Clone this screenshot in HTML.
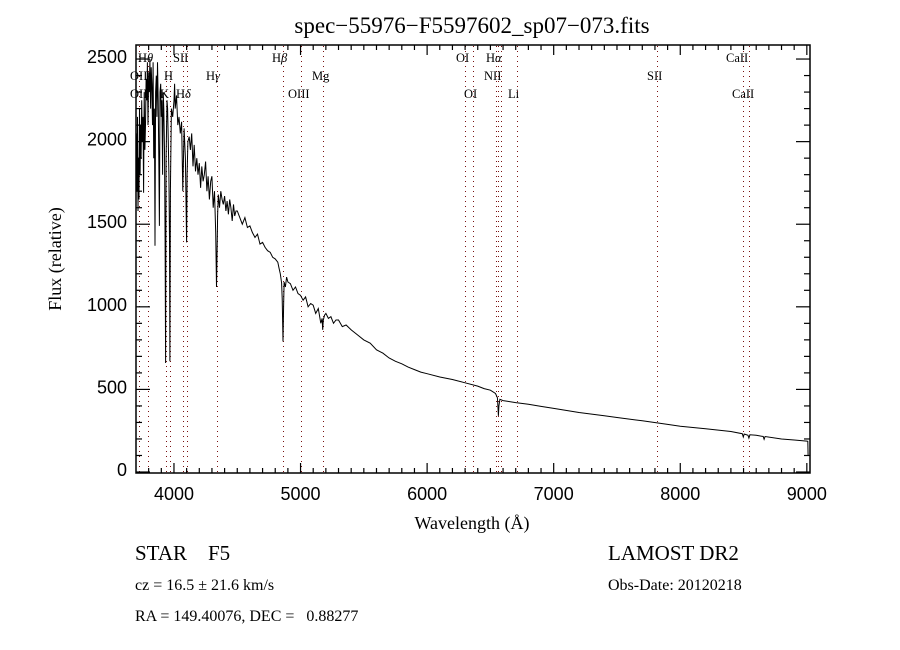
<!DOCTYPE html>
<html><head><meta charset="utf-8"><style>
body{margin:0;background:#fff;width:900px;height:650px;overflow:hidden}
svg{display:block}
.t{font-family:"Liberation Sans",sans-serif;font-size:18px;fill:#000}
.lb{font-family:"Liberation Serif",serif;font-size:12.5px;fill:#000}
.info{font-family:"Liberation Serif",serif;fill:#000}
</style></head><body>
<svg id="chart" width="900" height="650">
<text x="472" y="33" text-anchor="middle" class="info" style="font-size:23px">spec−55976−F5597602_sp07−073.fits</text>
<g id="lines"></g>
<polyline id="spec" fill="none" stroke="#000" stroke-width="1"/>
<rect x="136" y="45" width="674" height="428" fill="none" stroke="#000" stroke-width="1.5"/>
<g id="axes"></g>
<text x="0" y="0" transform="translate(61,259) rotate(-90)" text-anchor="middle" class="info" style="font-size:18px">Flux (relative)</text>
<text x="472" y="529" text-anchor="middle" class="info" style="font-size:18px">Wavelength (Å)</text>
<text x="135" y="560" class="info" style="font-size:21px" xml:space="preserve">STAR    F5</text>
<text x="608" y="560" class="info" style="font-size:21px">LAMOST DR2</text>
<text x="135" y="590" class="info" style="font-size:16px">cz = 16.5 ± 21.6 km/s</text>
<text x="608" y="590" class="info" style="font-size:16px">Obs-Date: 20120218</text>
<text x="135" y="621" class="info" style="font-size:16px" xml:space="preserve">RA = 149.40076, DEC =   0.88277</text>
</svg>
<script>
const wavelengths=[
3702,3708,3712,3716,3720,3724,3728,3732,3736,3740,
3745,3750,3755,3760,3765,3770,3775,3780,3785,3790,
3795,3800,3805,3810,3815,3820,3825,3830,3835,3840,
3845,3850,3855,3860,3865,3870,3875,3880,3885,3890,
3895,3900,3905,3910,3915,3920,3925,3930,3934,3938,
3945,3950,3955,3960,3965,3968,3972,3980,3990,4000,
4005,4010,4020,4030,4040,4050,4060,4070,4080,4090,
4100,4104,4110,4120,4130,4140,4150,4160,4170,4180,
4190,4200,4210,4220,4230,4240,4250,4260,4270,4280,
4290,4300,4310,4320,4330,4336,4340,4345,4350,4360,
4370,4380,4390,4400,4410,4420,4430,4440,4450,4460,
4470,4480,4490,4500,4520,4540,4560,4580,4600,4620,
4640,4660,4680,4700,4720,4740,4760,4780,4800,4820,
4830,4840,4850,4855,4861,4866,4870,4880,4890,4900,
4920,4940,4960,4980,5000,5020,5040,5060,5080,5100,
5120,5140,5160,5170,5175,5180,5190,5200,5220,5240,
5260,5280,5300,5330,5360,5400,5450,5500,5550,5600,
5650,5700,5750,5800,5850,5900,5950,
6000,6100,6200,6300,6400,6450,6500,6540,6555,6560,
6563,6567,6575,6600,6700,6800,6900,7000,7200,7400,
7500,7700,7900,8000,8200,8400,8490,8498,8505,8535,
8542,8550,8600,8655,8662,8670,8800,8900,9000,9008,
9010,9012];
const fluxes=[
2050,1700,2150,1580,1900,1650,2200,1800,2100,1900,
2250,2000,2150,1690,2300,1950,2100,2380,2250,2480,
2100,2420,2300,2500,2200,2450,2350,2100,2480,1900,
2200,1370,2300,2400,2150,2480,2250,1900,1490,2300,
2350,2150,2250,1800,2300,2200,1950,1400,660,1900,
2250,2200,2000,1800,1400,670,1700,2200,2150,2250,
2350,2200,2280,2100,2150,2050,2120,1700,2080,1900,
1390,1800,2000,2030,1950,2050,1850,1980,1820,1900,
1800,1870,1720,1850,1760,1800,1880,1700,1790,1650,
1760,1790,1600,1700,1450,1120,1300,1550,1680,1600,
1700,1650,1620,1670,1580,1640,1560,1650,1600,1520,
1620,1550,1580,1580,1540,1500,1540,1480,1490,1450,
1420,1440,1380,1390,1360,1340,1330,1300,1290,1270,
1235,1200,1145,1050,790,1000,1150,1120,1180,1150,
1140,1100,1120,1080,1070,1040,1060,1000,1020,1010,
960,990,900,930,860,920,950,960,930,940,
900,920,920,880,890,860,830,800,780,740,
720,690,670,655,635,620,605,
595,575,560,540,520,505,495,475,450,390,
340,400,440,432,420,410,397,385,360,340,
330,310,288,277,262,245,232,212,230,222,
205,225,222,215,198,215,200,194,187,186,
100,100];
const X0=3700,X1=9025,PX0=136,PX1=810,Y0=-6,Y1=2585,PY0=473,PY1=45;
const sx=v=>PX0+(v-X0)/(X1-X0)*(PX1-PX0);
const sy=v=>PY0-(v-Y0)/(Y1-Y0)*(PY0-PY1);
const NS="http://www.w3.org/2000/svg";
document.getElementById('spec').setAttribute('points',wavelengths.map((w,i)=>sx(w).toFixed(1)+','+sy(fluxes[i]).toFixed(1)).join(' '));
const lineWaves=[3727,3798,3934,3968,4072,4102,4340,4861,5007,5175,6300,6363,6548,6563,6583,6708,7817,8498,8542];
const labelNames=["OII","Hθ","OII","H","SII","K","Hδ","Hγ","Hβ","OIII","Mg","OI","OI","Hα","NII","Li","SII","CaII","CaII"];
const labelX=[130,138,130,164,173,160,176,206,272,288,312,456,464,486,484,508,647,726,732];
const labelRow=[1,0,2,1,0,2,2,1,0,2,1,0,2,0,1,2,1,0,2];
const lg=document.getElementById('lines');
lineWaves.forEach(w=>{const l=document.createElementNS(NS,'line');const x=Math.round(sx(w))+0.5;
l.setAttribute('x1',x);l.setAttribute('x2',x);l.setAttribute('y1',46);l.setAttribute('y2',472);
l.setAttribute('stroke','#7a1010');l.setAttribute('stroke-dasharray','1,4');


lg.appendChild(l);});
labelNames.forEach((n,i)=>{const t=document.createElementNS(NS,'text');t.setAttribute('x',labelX[i]);t.setAttribute('y',62+labelRow[i]*18);t.setAttribute('class','lb');
const m=n.match(/^(H)([θδγβα])$/);
if(m){t.textContent='H';const s=document.createElementNS(NS,'tspan');s.setAttribute('font-style','italic');s.textContent=m[2];t.appendChild(s);}else t.textContent=n;


lg.appendChild(t);});
const xTicks=[4000,5000,6000,7000,8000,9000];
const yTicks=[0,500,1000,1500,2000,2500];
const ax=document.getElementById('axes');
function ln(x1,y1,x2,y2){const l=document.createElementNS(NS,'line');l.setAttribute('x1',x1);l.setAttribute('y1',y1);l.setAttribute('x2',x2);l.setAttribute('y2',y2);l.setAttribute('stroke','#000');l.setAttribute('stroke-width',1.2);


ax.appendChild(l);}
for(let w=3800;w<=9000;w+=100){const x=sx(w);const L=(w%1000===0)?10:5;ln(x,473,x,473-L);ln(x,45,x,45+L);}
for(let v=0;v<=2500;v+=100){const y=sy(v);const L=(v%500===0)?14:6;ln(136,y,136+L,y);ln(810,y,810-L,y);}
xTicks.forEach(v=>{const t=document.createElementNS(NS,'text');t.setAttribute('x',sx(v));t.setAttribute('y',500);t.setAttribute('text-anchor','middle');t.setAttribute('class','t');t.textContent=v;


ax.appendChild(t);});
yTicks.forEach(v=>{const t=document.createElementNS(NS,'text');t.setAttribute('x',127);t.setAttribute('y',sy(v)+4);t.setAttribute('text-anchor','end');t.setAttribute('class','t');t.textContent=v;


ax.appendChild(t);});
</script>
</body></html>
